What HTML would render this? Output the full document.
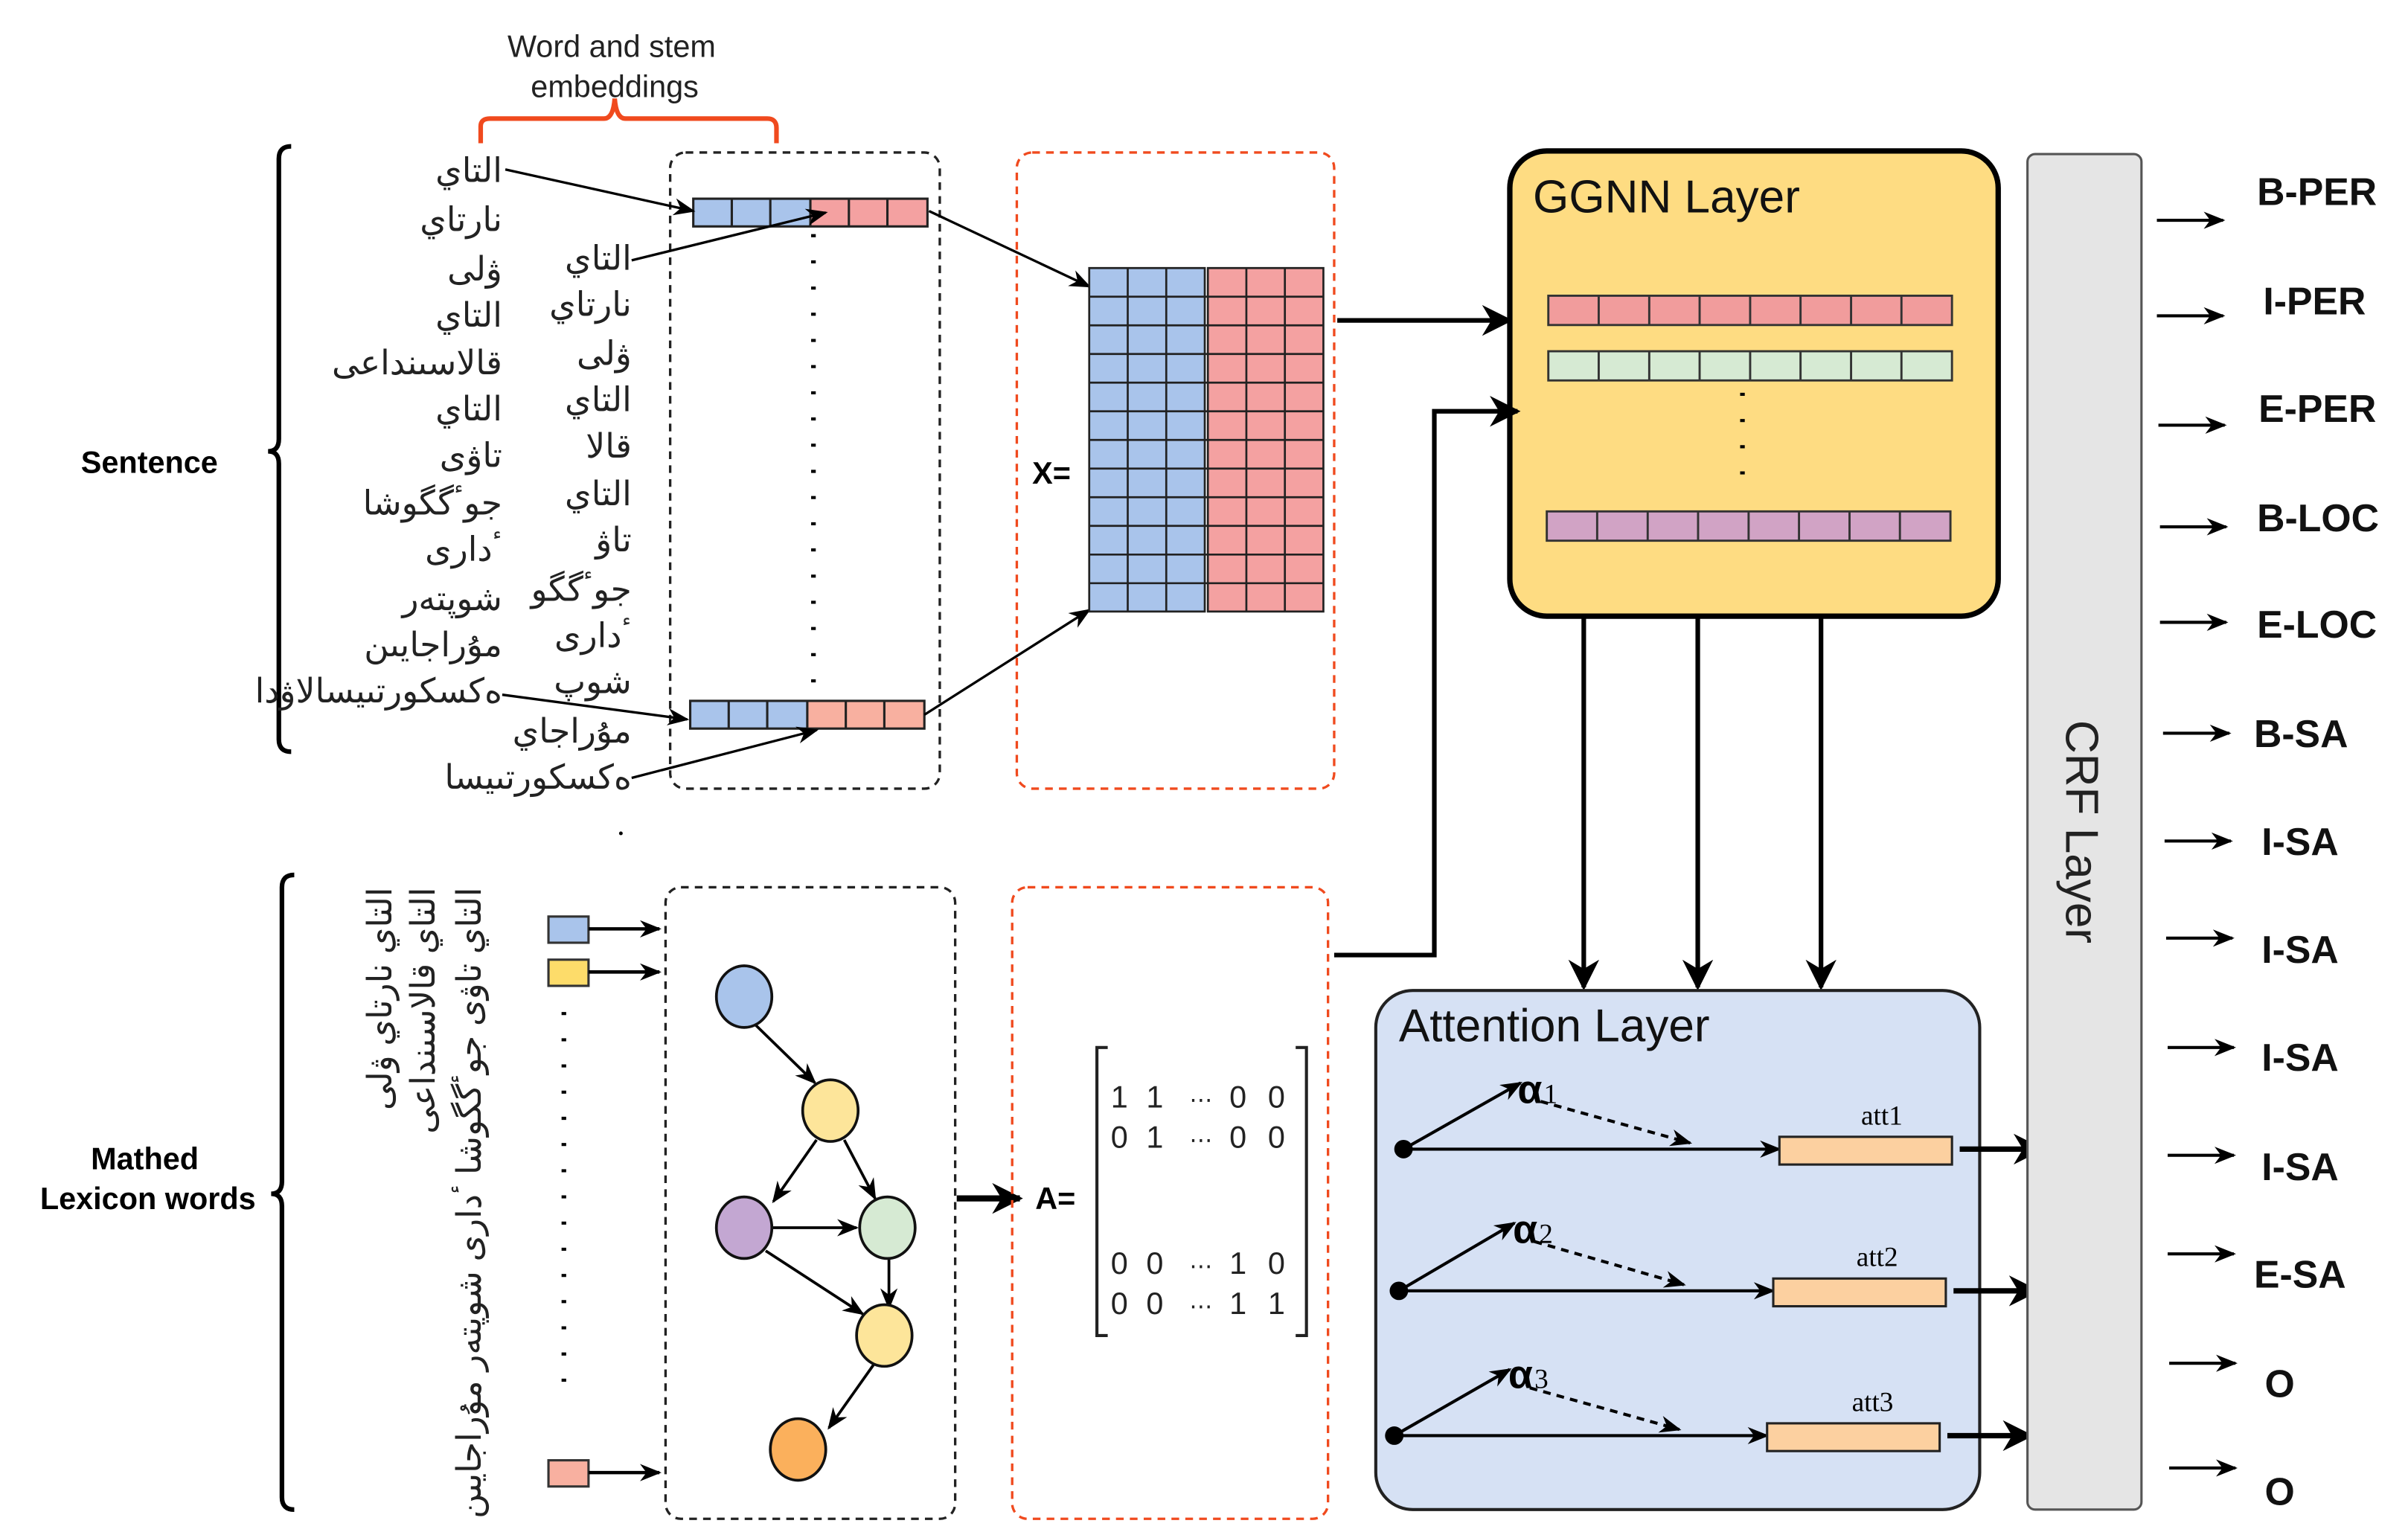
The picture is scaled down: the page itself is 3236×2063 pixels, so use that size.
<!DOCTYPE html>
<html><head><meta charset="utf-8">
<style>html,body{margin:0;padding:0;background:#fff}svg{display:block}</style>
</head><body>
<svg width="3236" height="2063" viewBox="0 0 1563 996.5" preserveAspectRatio="none" xmlns="http://www.w3.org/2000/svg" font-family="'Liberation Sans','DejaVu Sans',sans-serif">
<defs>
<marker id="a" viewBox="0 0 10 10" refX="9" refY="5" markerWidth="9" markerHeight="9" markerUnits="userSpaceOnUse" orient="auto"><path d="M0,0 L10,5 L0,10 L3,5z" fill="#000"/></marker>
<marker id="b" viewBox="0 0 10 10" refX="9" refY="5" markerWidth="20" markerHeight="20" markerUnits="userSpaceOnUse" orient="auto"><path d="M0,0 L10,5 L0,10 L3,5z" fill="#000"/></marker>
<marker id="c" viewBox="0 0 10 10" refX="9" refY="5" markerWidth="14" markerHeight="14" markerUnits="userSpaceOnUse" orient="auto"><path d="M0,1 L10,5 L0,9 L3,5z" fill="#000"/></marker>
</defs>

<!-- top label + red brace -->
<text x="397" y="37" font-size="20" text-anchor="middle" fill="#222">Word and stem</text>
<text x="399" y="63" font-size="20" text-anchor="middle" fill="#222">embeddings</text>
<path d="M312,93 V82 Q312,77 318,77 H392 Q398,77 399,64 Q400,77 406,77 H498 Q504,77 504,83 V93" fill="none" stroke="#f04a1e" stroke-width="3"/>

<!-- Sentence brace -->
<path d="M189,95 Q181,95 181,103 V285 Q181,293 174,293 Q181,293 181,301 V480 Q181,488 189,488" fill="none" stroke="#000" stroke-width="3"/>
<text x="97" y="307" font-size="20" font-weight="bold" text-anchor="middle">Sentence</text>

<g font-size="22" text-anchor="end" fill="#222">
<text x="326" y="118">التاي</text>
<text x="326" y="150">نارتاي</text>
<text x="326" y="182">ۋلى</text>
<text x="326" y="212">التاي</text>
<text x="326" y="243">قالاسىنداعى</text>
<text x="326" y="273">التاي</text>
<text x="326" y="303">تاۋى</text>
<text x="326" y="334">جوٴگگوشا</text>
<text x="326" y="364">ٴدارى</text>
<text x="326" y="396">شوپتەر</text>
<text x="326" y="426">مۇراجايىن</text>
<text x="326" y="456">ەكسكورتىيسالاۋدا</text>
<text x="410" y="175">التاي</text>
<text x="410" y="205">نارتاي</text>
<text x="410" y="237">ۋلى</text>
<text x="410" y="267">التاي</text>
<text x="410" y="297">قالا</text>
<text x="410" y="328">التاي</text>
<text x="410" y="358">تاۋ</text>
<text x="410" y="390">جوٴگگو</text>
<text x="410" y="420">ٴدارى</text>
<text x="410" y="450">شوپ</text>
<text x="410" y="482">مۇراجاي</text>
<text x="410" y="512">ەكسكورتىيسا</text>
</g>
<circle cx="403" cy="541" r="1.2" fill="#000"/>

<!-- dashed box 1 -->
<rect x="435" y="99" width="175" height="413" rx="10" fill="none" stroke="#222" stroke-width="1.6" stroke-dasharray="5,4"/>
<!-- top bar -->
<rect x="450" y="129" width="76" height="18" fill="#a9c4eb"/><rect x="526" y="129" width="76" height="18" fill="#f4a1a1"/>
<path d="M450,129h152v18h-152z M475,129v18 M500,129v18 M526,129v18 M551,129v18 M576,129v18" fill="none" stroke="#222" stroke-width="1.5"/>
<!-- bottom bar -->
<rect x="448" y="455" width="76" height="18" fill="#a9c4eb"/><rect x="524" y="455" width="76" height="18" fill="#f8b0a0"/>
<path d="M448,455h152v18h-152z M473,455v18 M498,455v18 M524,455v18 M549,455v18 M574,455v18" fill="none" stroke="#222" stroke-width="1.5"/>
<line x1="528" y1="152" x2="528" y2="445" stroke="#000" stroke-width="3" stroke-dasharray="2,15"/>
<g stroke="#000" stroke-width="1.6" marker-end="url(#c)">
<line x1="328" y1="110" x2="450" y2="137"/>
<line x1="410" y1="169" x2="536" y2="138"/>
<line x1="326" y1="451" x2="446" y2="467"/>
<line x1="410" y1="505" x2="530" y2="474"/>
<line x1="603" y1="137" x2="707" y2="186"/>
<line x1="600" y1="464" x2="707" y2="396"/>
</g>

<!-- red dashed box X -->
<rect x="660" y="99" width="206" height="413" rx="10" fill="none" stroke="#f04a1e" stroke-width="1.6" stroke-dasharray="5,4"/>
<text x="670" y="314" font-size="20" font-weight="bold">X=</text>
<rect x="707" y="174" width="75" height="223" fill="#a9c4eb"/><rect x="784" y="174" width="75" height="223" fill="#f4a1a1"/>
<path d="M707,174h75v223h-75z M784,174h75v223h-75z M732,174v223 M757,174v223 M809,174v223 M834,174v223
M707,192.6h152 M707,211.2h152 M707,229.8h152 M707,248.4h152 M707,267h152 M707,285.6h152 M707,304.2h152 M707,322.8h152 M707,341.4h152 M707,360h152 M707,378.6h152" fill="none" stroke="#222" stroke-width="1.3"/>

<line x1="868" y1="208" x2="980" y2="208" stroke="#000" stroke-width="3" marker-end="url(#b)"/>

<!-- GGNN -->
<rect x="980" y="98" width="317" height="302" rx="24" fill="#fedc82" stroke="#000" stroke-width="3.5"/>
<text x="995" y="138" font-size="30" fill="#111">GGNN Layer</text>
<rect x="1005" y="192" width="262" height="19" fill="#f19c9c"/>
<rect x="1005" y="228" width="262" height="19" fill="#d6ead3"/>
<rect x="1004" y="332" width="262" height="19" fill="#d1a3c5"/>
<path d="M1005,192h262v19h-262z M1037.7,192v19 M1070.5,192v19 M1103.2,192v19 M1136,192v19 M1168.7,192v19 M1201.5,192v19 M1234.2,192v19
M1005,228h262v19h-262z M1037.7,228v19 M1070.5,228v19 M1103.2,228v19 M1136,228v19 M1168.7,228v19 M1201.5,228v19 M1234.2,228v19
M1004,332h262v19h-262z M1036.7,332v19 M1069.5,332v19 M1102.2,332v19 M1135,332v19 M1167.7,332v19 M1200.5,332v19 M1233.2,332v19" fill="none" stroke="#333" stroke-width="1.4"/>
<line x1="1131" y1="255" x2="1131" y2="318" stroke="#000" stroke-width="3" stroke-dasharray="2,15"/>

<path d="M866,620 H931 V267 H985" fill="none" stroke="#000" stroke-width="3" marker-end="url(#b)"/>
<g stroke="#000" stroke-width="3" marker-end="url(#b)">
<line x1="1028" y1="401" x2="1028" y2="641"/>
<line x1="1102" y1="401" x2="1102" y2="641"/>
<line x1="1182" y1="401" x2="1182" y2="641"/>
</g>

<!-- Attention -->
<rect x="893" y="643" width="392" height="337" rx="24" fill="#d6e1f4" stroke="#222" stroke-width="2"/>
<text x="908" y="676" font-size="30" fill="#111">Attention Layer</text>
<g stroke="#000" stroke-width="2">
<line x1="911" y1="746" x2="1155" y2="746" marker-end="url(#c)"/>
<line x1="911" y1="746" x2="987" y2="703" marker-end="url(#c)"/>
<line x1="1000" y1="715" x2="1097" y2="742" stroke-dasharray="5,4" marker-end="url(#c)"/>
<line x1="908" y1="838" x2="1151" y2="838" marker-end="url(#c)"/>
<line x1="908" y1="838" x2="983" y2="794" marker-end="url(#c)"/>
<line x1="996" y1="806" x2="1093" y2="834" stroke-dasharray="5,4" marker-end="url(#c)"/>
<line x1="905" y1="932" x2="1147" y2="932" marker-end="url(#c)"/>
<line x1="905" y1="932" x2="980" y2="889" marker-end="url(#c)"/>
<line x1="993" y1="901" x2="1090" y2="928" stroke-dasharray="5,4" marker-end="url(#c)"/>
</g>
<circle cx="911" cy="746" r="6" fill="#000"/><circle cx="908" cy="838" r="6" fill="#000"/><circle cx="905" cy="932" r="6" fill="#000"/>
<g font-size="26" font-weight="bold"><text x="985" y="716">α</text><text x="982" y="807">α</text><text x="979" y="901">α</text></g>
<g font-size="18" font-family="'Liberation Serif',serif"><text x="1002" y="716">1</text><text x="999" y="807">2</text><text x="996" y="901">3</text>
<text x="1208" y="730">att1</text><text x="1205" y="822">att2</text><text x="1202" y="916">att3</text></g>
<rect x="1155" y="738" width="112" height="18" fill="#fcd0a0" stroke="#222" stroke-width="1.5"/>
<rect x="1151" y="830" width="112" height="18" fill="#fcd0a0" stroke="#222" stroke-width="1.5"/>
<rect x="1147" y="924" width="112" height="18" fill="#fcd0a0" stroke="#222" stroke-width="1.5"/>
<g stroke="#000" stroke-width="3.5" marker-end="url(#b)">
<line x1="1272" y1="746" x2="1325" y2="746"/>
<line x1="1268" y1="838" x2="1322" y2="838"/>
<line x1="1264" y1="932" x2="1318" y2="932"/>
</g>

<!-- CRF -->
<rect x="1316" y="100" width="74" height="880" rx="5" fill="#e5e5e5" stroke="#555" stroke-width="1.5"/>
<text transform="translate(1341,540) rotate(90)" font-size="30" text-anchor="middle" fill="#222">CRF Layer</text>

<g stroke="#000" stroke-width="2" marker-end="url(#c)">
<line x1="1400" y1="143" x2="1443" y2="143"/>
<line x1="1400" y1="205" x2="1443" y2="205"/>
<line x1="1401" y1="276" x2="1444" y2="276"/>
<line x1="1402" y1="342" x2="1445" y2="342"/>
<line x1="1402" y1="404" x2="1445" y2="404"/>
<line x1="1404" y1="476" x2="1447" y2="476"/>
<line x1="1405" y1="546" x2="1448" y2="546"/>
<line x1="1406" y1="609" x2="1449" y2="609"/>
<line x1="1407" y1="680" x2="1450" y2="680"/>
<line x1="1407" y1="750" x2="1450" y2="750"/>
<line x1="1407" y1="814" x2="1450" y2="814"/>
<line x1="1408" y1="885" x2="1451" y2="885"/>
<line x1="1408" y1="953" x2="1451" y2="953"/>
</g>
<g font-size="25" font-weight="bold" fill="#111">
<text x="1465" y="133">B-PER</text>
<text x="1469" y="204">I-PER</text>
<text x="1466" y="274">E-PER</text>
<text x="1465" y="345">B-LOC</text>
<text x="1465" y="414">E-LOC</text>
<text x="1463" y="485">B-SA</text>
<text x="1468" y="555">I-SA</text>
<text x="1468" y="625">I-SA</text>
<text x="1468" y="695">I-SA</text>
<text x="1468" y="766">I-SA</text>
<text x="1463" y="836">E-SA</text>
<text x="1470" y="907">O</text>
<text x="1470" y="977">O</text>
</g>

<!-- lower brace -->
<path d="M191,568 Q183,568 183,576 V767 Q183,775 176,775 Q183,775 183,783 V972 Q183,980 191,980" fill="none" stroke="#000" stroke-width="3"/>
<text x="94" y="759" font-size="20" font-weight="bold" text-anchor="middle">Mathed</text>
<text x="96" y="785" font-size="20" font-weight="bold" text-anchor="middle">Lexicon words</text>

<g font-size="22" text-anchor="end" fill="#222">
<text transform="translate(254,576) rotate(-90)">التاي نارتاي ۋلى</text>
<text transform="translate(282,576) rotate(-90)">التاي قالاسىنداعى</text>
<text transform="translate(312,576) rotate(-90)">التاي تاۋى جوٴگگوشا ٴدارى شوپتەر مۇراجايىن</text>
</g>

<rect x="356" y="595" width="26" height="17" fill="#a9c4eb" stroke="#333" stroke-width="1.5"/>
<rect x="356" y="623" width="26" height="17" fill="#fddc6a" stroke="#333" stroke-width="1.5"/>
<rect x="356" y="948" width="26" height="17" fill="#f8b0a0" stroke="#333" stroke-width="1.5"/>
<g stroke="#000" stroke-width="2.2" marker-end="url(#c)">
<line x1="382" y1="603" x2="428" y2="603"/>
<line x1="382" y1="631" x2="428" y2="631"/>
<line x1="382" y1="956" x2="428" y2="956"/>
</g>
<line x1="366" y1="657" x2="366" y2="905" stroke="#000" stroke-width="3" stroke-dasharray="2,15"/>

<rect x="432" y="576" width="188" height="410" rx="10" fill="none" stroke="#222" stroke-width="1.6" stroke-dasharray="5,4"/>
<g stroke="#000" stroke-width="1.8" marker-end="url(#c)">
<line x1="490" y1="665" x2="529" y2="703"/>
<line x1="530" y1="740" x2="502" y2="780"/>
<line x1="548" y1="740" x2="568" y2="778"/>
<line x1="500" y1="797" x2="556" y2="797"/>
<line x1="497" y1="812" x2="560" y2="853"/>
<line x1="577" y1="815" x2="577" y2="849"/>
<line x1="567" y1="886" x2="538" y2="927"/>
</g>
<g stroke="#111" stroke-width="1.8">
<ellipse cx="483" cy="647" rx="18" ry="20" fill="#a9c4eb"/>
<ellipse cx="539" cy="721" rx="18" ry="20" fill="#fde59a"/>
<ellipse cx="483" cy="797" rx="18" ry="20" fill="#c3a7d2"/>
<ellipse cx="576" cy="797" rx="18" ry="20" fill="#d6ead3"/>
<ellipse cx="574" cy="867" rx="18" ry="20" fill="#fde59a"/>
<ellipse cx="518" cy="941" rx="18" ry="20" fill="#fbb05c"/>
</g>

<line x1="621" y1="778" x2="662" y2="778" stroke="#000" stroke-width="4" marker-end="url(#b)"/>
<rect x="657" y="576" width="205" height="410" rx="10" fill="none" stroke="#f04a1e" stroke-width="1.6" stroke-dasharray="5,4"/>
<text x="672" y="785" font-size="20" font-weight="bold">A=</text>
<path d="M719,680 H712 V867 H719 M841,680 H848 V867 H841" fill="none" stroke="#222" stroke-width="2"/>
<g font-size="20" fill="#222">
<text x="721" y="719">1</text><text x="744" y="719">1</text><text x="772" y="719" font-size="15">⋯</text><text x="798" y="719">0</text><text x="823" y="719">0</text>
<text x="721" y="745">0</text><text x="744" y="745">1</text><text x="772" y="745" font-size="15">⋯</text><text x="798" y="745">0</text><text x="823" y="745">0</text>
<text x="721" y="827">0</text><text x="744" y="827">0</text><text x="772" y="827" font-size="15">⋯</text><text x="798" y="827">1</text><text x="823" y="827">0</text>
<text x="721" y="853">0</text><text x="744" y="853">0</text><text x="772" y="853" font-size="15">⋯</text><text x="798" y="853">1</text><text x="823" y="853">1</text>
</g>
</svg>
</body></html>
